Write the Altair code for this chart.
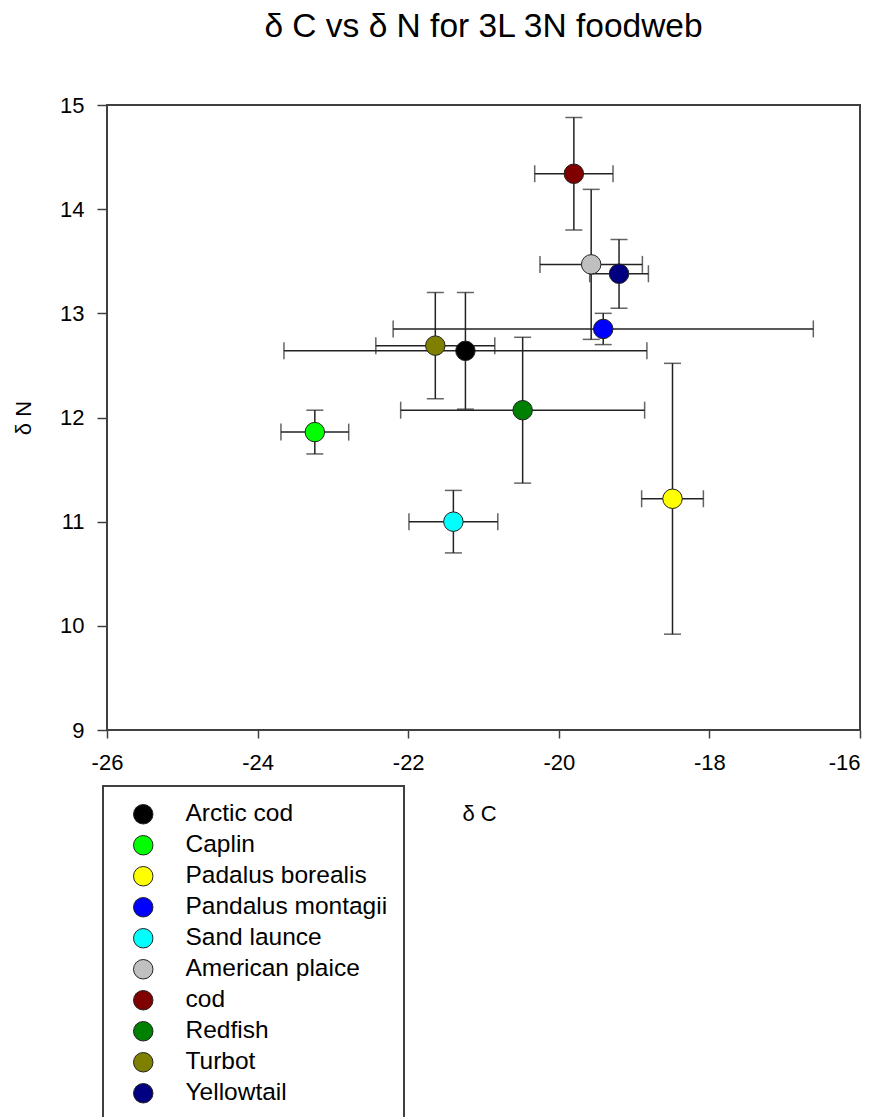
import altair as alt
import pandas as pd

species = ["Arctic cod", "Caplin", "Padalus borealis", "Pandalus montagii", "Sand launce",
           "American plaice", "cod", "Redfish", "Turbot", "Yellowtail"]
delta_c = [-21.24, -23.24, -18.49, -19.41, -21.40, -19.57, -19.80, -20.48, -21.64, -19.20]
delta_c_err = [2.41, 0.45, 0.41, 2.79, 0.59, 0.68, 0.52, 1.62, 0.79, 0.39]
delta_n = [12.64, 11.86, 11.22, 12.85, 11.00, 13.47, 14.34, 12.07, 12.69, 13.38]
delta_n_err = [0.56, 0.21, 1.30, 0.15, 0.30, 0.72, 0.54, 0.70, 0.51, 0.33]
colors = ["#000000", "#00ff00", "#ffff00", "#0000ff", "#00ffff",
          "#c0c0c0", "#800000", "#008000", "#808000", "#000080"]

x_ticks = [-26, -24, -22, -20, -18, -16]
y_ticks = [9, 10, 11, 12, 13, 14, 15]

df = pd.DataFrame({
    "species": species,
    "c": delta_c,
    "n": delta_n,
    "c_lo": [v - e for v, e in zip(delta_c, delta_c_err)],
    "c_hi": [v + e for v, e in zip(delta_c, delta_c_err)],
    "n_lo": [v - e for v, e in zip(delta_n, delta_n_err)],
    "n_hi": [v + e for v, e in zip(delta_n, delta_n_err)],
})

FONT = "Liberation Sans"
BAR = "#222222"
FRAME = "#404040"

xscale = alt.Scale(domain=[-26, -16], nice=False, zero=False)
yscale = alt.Scale(domain=[9, 15], nice=False, zero=False)

xaxis = alt.Axis(values=x_ticks,
                 labelExpr="'' + datum.value",
                 labelFlush=False,
                 labelAlign={"condition": {"test": "datum.value == -16", "value": "right"},
                             "value": "center"},
                 title="δ C", grid=False, tickSize=8,
                 tickColor=FRAME, tickWidth=1.5, domain=False, labelFontSize=22,
                 labelPadding=14, labelColor="black", labelFont=FONT, titleFont=FONT,
                 titleFontSize=22, titleFontWeight="normal", titleColor="black",
                 titlePadding=30, titleX=372)
yaxis = alt.Axis(values=y_ticks, labelExpr="'' + datum.value", labelFlush=False,
                 title="δ N", grid=False, tickSize=10,
                 tickColor=FRAME, tickWidth=1.5, domain=False, labelFontSize=22,
                 labelPadding=13, labelColor="black", labelFont=FONT, titleFont=FONT,
                 titleFontSize=22, titleFontWeight="normal", titleColor="black",
                 titlePadding=24)

base = alt.Chart(df)

hbar = base.mark_rule(color=BAR, strokeWidth=1.5).encode(
    x=alt.X("c_lo:Q", scale=xscale, axis=xaxis), x2="c_hi:Q",
    y=alt.Y("n:Q", scale=yscale, axis=yaxis))
vbar = base.mark_rule(color=BAR, strokeWidth=1.5).encode(
    x=alt.X("c:Q", scale=xscale), y=alt.Y("n_lo:Q", scale=yscale), y2="n_hi:Q")

cap_l = base.mark_tick(color=BAR, orient="vertical", size=17, thickness=1.5).encode(
    x=alt.X("c_lo:Q", scale=xscale), y=alt.Y("n:Q", scale=yscale))
cap_r = base.mark_tick(color=BAR, orient="vertical", size=17, thickness=1.5).encode(
    x=alt.X("c_hi:Q", scale=xscale), y=alt.Y("n:Q", scale=yscale))
cap_b = base.mark_tick(color=BAR, orient="horizontal", size=17, thickness=1.5).encode(
    x=alt.X("c:Q", scale=xscale), y=alt.Y("n_lo:Q", scale=yscale))
cap_t = base.mark_tick(color=BAR, orient="horizontal", size=17, thickness=1.5).encode(
    x=alt.X("c:Q", scale=xscale), y=alt.Y("n_hi:Q", scale=yscale))

points = base.mark_circle(size=380, opacity=1, stroke="#222222", strokeWidth=1).encode(
    x=alt.X("c:Q", scale=xscale),
    y=alt.Y("n:Q", scale=yscale),
    color=alt.Color("species:N", scale=alt.Scale(domain=species, range=colors),
                    sort=species,
                    legend=alt.Legend(title=None, orient="none", legendX=-4, legendY=681,
                                      symbolType="circle", symbolSize=380,
                                      symbolStrokeColor="#222222", symbolStrokeWidth=1,
                                      symbolOpacity=1, symbolOffset=12,
                                      labelFont=FONT, labelFontSize=24.5, labelColor="black",
                                      labelOffset=30, rowPadding=6, padding=16,
                                      strokeColor=FRAME,
                                      labelLimit=400)),
)

chart = alt.layer(hbar, vbar, cap_l, cap_r, cap_b, cap_t, points).properties(
    width=753, height=625,
    title=alt.TitleParams("δ C vs δ N for 3L 3N foodweb", font=FONT, fontSize=33.5,
                          fontWeight="normal", color="black", offset=50, anchor="middle"),
    autosize=alt.AutoSizeParams(type="none"),
    padding={"left": 99, "top": 97, "right": 13, "bottom": 420},
).configure_view(stroke=FRAME, strokeWidth=2).configure_legend(strokeWidth=2)

chart.save("out.html", embed_options={"renderer": "svg", "actions": False})
